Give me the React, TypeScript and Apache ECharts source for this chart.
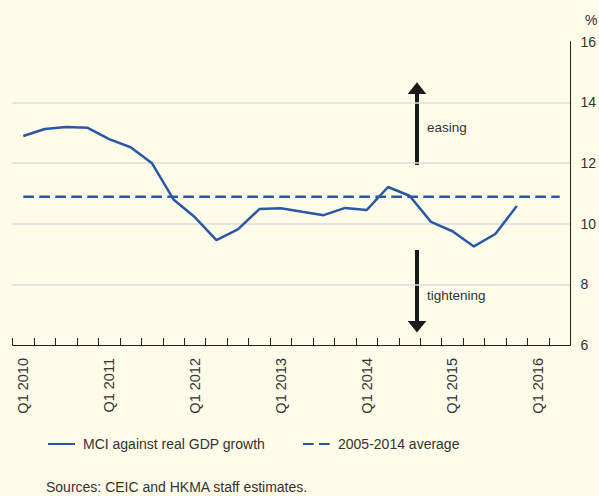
import React, { useEffect, useRef } from "react";
import * as echarts from "echarts";

const quarters: string[] = [];
for (let y = 2010; y <= 2016; y++) {
  for (let q = 1; q <= 4; q++) {
    if (y === 2016 && q > 2) break;
    quarters.push(`Q${q} ${y}`);
  }
}
const mciValues = [
  12.89, 13.12, 13.19, 13.16, 12.79, 12.52, 11.99, 10.8, 10.21, 9.46, 9.81, 10.48,
  10.51, 10.39, 10.28, 10.52, 10.45, 11.21, 10.92, 10.06, 9.75, 9.25, 9.66, 10.58,
];
const averageValue = 10.89;
const averageValues = quarters.map(() => averageValue);
const yTicks = { min: 6, max: 16, interval: 2 };

const BLUE = "#2a57a6";
const TEXT = "#333333";
const FONT = "'Liberation Sans', Arial, Helvetica, sans-serif";

export default function App() {
  const ref = useRef<HTMLDivElement>(null);
  useEffect(() => {
    if (!ref.current) return;
    const chart = echarts.init(ref.current, undefined, { renderer: "svg" });
    const arrowX = 417;
    const legendCommon = {
      top: 432,
      itemWidth: 27,
      itemHeight: 14,
      textStyle: { fontSize: 14, color: TEXT, fontFamily: FONT, padding: [0, 0, 0, 3] },
      itemStyle: { opacity: 0 },
    };
    chart.setOption({
      animation: false,
      backgroundColor: "#fefbe8",
      textStyle: { fontFamily: FONT, color: TEXT },
      grid: { left: 12.6, right: 28, top: 41.7, bottom: 151, containLabel: false },
      legend: [
        { ...legendCommon, data: ["MCI against real GDP growth"], left: 42 },
        { ...legendCommon, data: ["2005-2014 average"], left: 297 },
      ],
      xAxis: {
        type: "category",
        data: quarters,
        boundaryGap: true,
        axisLine: { lineStyle: { color: "#222", width: 1 } },
        axisTick: { show: true, inside: true, length: 7, interval: 0, lineStyle: { color: "#222" } },
        axisLabel: {
          interval: (i: number) => i % 4 === 0,
          rotate: 90,
          margin: 13,
          fontSize: 14.5,
          color: TEXT,
          fontFamily: FONT,
        },
        splitLine: { show: false },
      },
      yAxis: {
        type: "value",
        position: "right",
        min: yTicks.min,
        max: yTicks.max,
        interval: yTicks.interval,
        axisLine: { show: true, lineStyle: { color: "#222", width: 1 } },
        axisTick: { show: false },
        axisLabel: { margin: 10, fontSize: 14, color: TEXT, fontFamily: FONT },
        splitLine: {
          show: true,
          showMinLine: false,
          showMaxLine: false,
          lineStyle: { color: "#dcdcdc", width: 1.5 },
        },
      },
      series: [
        {
          name: "MCI against real GDP growth",
          type: "line",
          data: mciValues,
          symbol: "none",
          lineStyle: { color: BLUE, width: 2.5 },
          itemStyle: { color: BLUE },
          z: 3,
        },
        {
          name: "2005-2014 average",
          type: "line",
          data: averageValues,
          symbol: "none",
          lineStyle: { color: BLUE, width: 2.5, type: [10.7, 5.3] },
          itemStyle: { color: BLUE },
          z: 2,
        },
      ],
      graphic: [
        {
          type: "text",
          left: 585,
          top: 13,
          style: { text: "%", fontSize: 14, fill: TEXT, fontFamily: FONT },
        },
        {
          type: "line",
          shape: { x1: arrowX, y1: 165, x2: arrowX, y2: 92 },
          style: { stroke: "#1a1a1a", lineWidth: 4 },
        },
        {
          type: "polygon",
          shape: { points: [[arrowX - 9.3, 94], [arrowX + 9.3, 94], [arrowX, 82.3]] },
          style: { fill: "#1a1a1a" },
        },
        {
          type: "text",
          x: 427,
          y: 127.3,
          style: { text: "easing", fontSize: 13.5, fill: TEXT, fontFamily: FONT, verticalAlign: "middle" },
        },
        {
          type: "line",
          shape: { x1: arrowX, y1: 250, x2: arrowX, y2: 323 },
          style: { stroke: "#1a1a1a", lineWidth: 4 },
        },
        {
          type: "polygon",
          shape: { points: [[arrowX - 9.3, 321], [arrowX + 9.3, 321], [arrowX, 332.5]] },
          style: { fill: "#1a1a1a" },
        },
        {
          type: "text",
          x: 427,
          y: 295,
          style: { text: "tightening", fontSize: 13.5, fill: TEXT, fontFamily: FONT, verticalAlign: "middle" },
        },
        {
          type: "text",
          x: 46,
          y: 487,
          style: {
            text: "Sources: CEIC and HKMA staff estimates.",
            fontSize: 14,
            fill: TEXT,
            fontFamily: FONT,
            verticalAlign: "middle",
          },
        },
      ],
    });
    return () => chart.dispose();
  }, []);
  return (
    <div
      ref={ref}
      style={{ position: "fixed", left: 0, top: 0, width: 599, height: 496 }}
    />
  );
}
